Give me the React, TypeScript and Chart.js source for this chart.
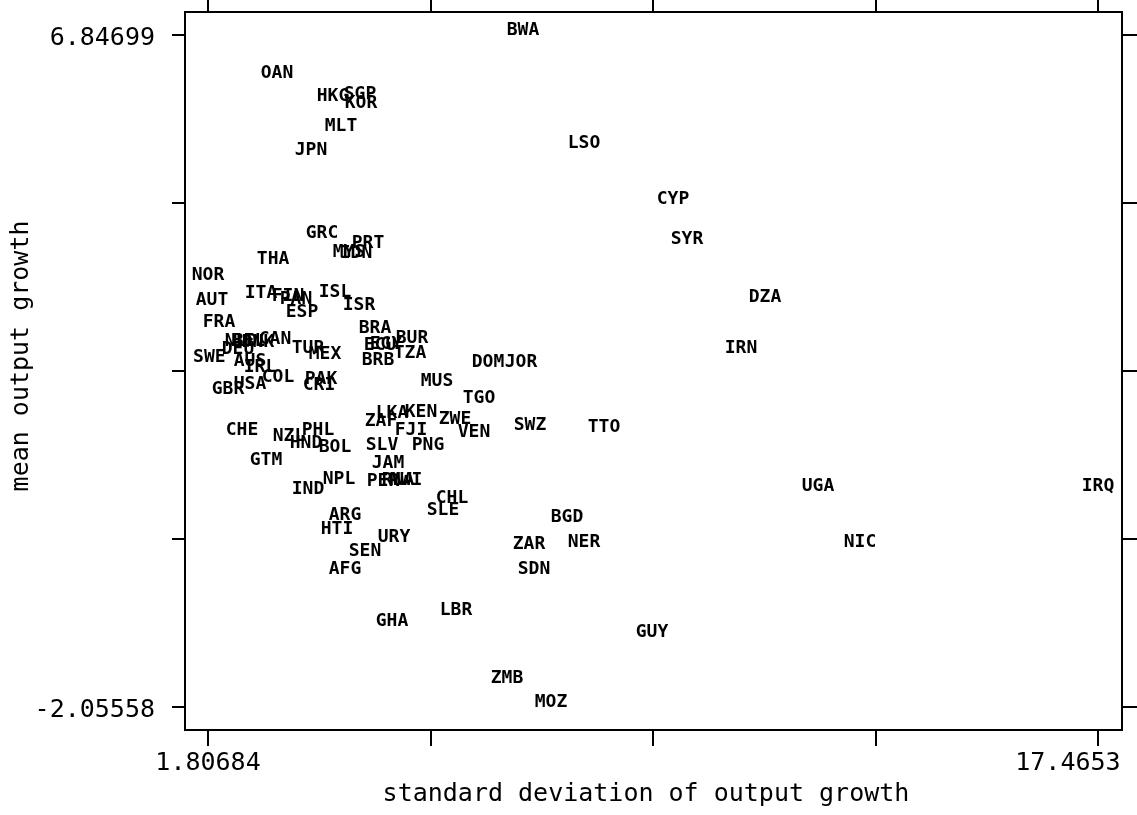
import React, { useEffect, useRef } from "react";
import { Chart, registerables } from "chart.js";

Chart.register(...registerables);

// Country codes (marker labels)
const countries = [
  "BWA","OAN","HKG","SGP","KOR","MLT","JPN","LSO","CYP","SYR",
  "GRC","PRT","MYS","IDN","THA","NOR","AUT","ITA","FIN","PAN",
  "ISL","ISR","ESP","FRA","BRA","BUR","ECU","EGY","TZA","BRB",
  "DOM","JOR","MUS","IRN","DZA","NLD","BEL","DNK","CAN","DEU",
  "SWE","AUS","IRL","TUR","MEX","PAK","CRI","COL","USA","GBR",
  "TGO","ZAF","LKA","KEN","ZWE","FJI","VEN","SWZ","TTO","SLV",
  "PNG","JAM","PER","RWA","MWI","CHE","NZL","PHL","HND","BOL",
  "GTM","IND","NPL","ARG","HTI","URY","SEN","AFG","CHL","SLE",
  "ZAR","SDN","BGD","NER","UGA","NIC","IRQ","GHA","LBR","GUY",
  "ZMB","MOZ",
];

// standard deviation of output growth (x)
const sdGrowth = [
  7.349, 3.021, 4.006, 4.481, 4.499, 4.147, 3.619, 8.422, 9.988, 10.234,
  3.813, 4.622, 4.288, 4.411, 2.951, 1.80684, 1.877, 2.739, 3.214, 3.355,
  4.041, 4.464, 3.461, 2.000, 4.745, 5.396, 4.833, 4.938, 5.361, 4.798,
  6.733, 7.313, 5.836, 11.184, 11.606, 2.387, 2.528, 2.686, 2.986, 2.335,
  1.830, 2.546, 2.722, 3.566, 3.865, 3.795, 3.760, 3.038, 2.546, 2.159,
  6.575, 4.850, 5.044, 5.554, 6.152, 5.378, 6.487, 7.472, 8.774, 4.868,
  5.677, 4.974, 4.886, 5.150, 5.290, 2.405, 3.232, 3.742, 3.531, 4.041,
  2.827, 3.566, 4.112, 4.217, 4.076, 5.079, 4.569, 4.217, 6.100, 5.941,
  7.454, 7.542, 8.123, 8.422, 12.539, 13.278, 17.4653, 5.044, 6.170, 9.618,
  7.067, 7.841,
];

// mean output growth (y)
const meanGrowth = [
  6.84699, 6.284, 5.979, 6.006, 5.886, 5.582, 5.264, 5.356, 4.615, 4.085,
  4.164, 4.032, 3.912, 3.899, 3.820, 3.608, 3.276, 3.369, 3.329, 3.290,
  3.382, 3.210, 3.117, 2.985, 2.905, 2.773, 2.680, 2.693, 2.574, 2.481,
  2.455, 2.455, 2.203, 2.640, 3.316, 2.733, 2.733, 2.720, 2.760, 2.627,
  2.521, 2.468, 2.389, 2.640, 2.561, 2.230, 2.150, 2.256, 2.164, 2.097,
  1.978, 1.673, 1.779, 1.792, 1.700, 1.554, 1.528, 1.620, 1.594, 1.355,
  1.355, 1.117, 0.878, 0.892, 0.892, 1.554, 1.475, 1.554, 1.382, 1.329,
  1.147, 0.772, 0.905, 0.428, 0.242, 0.136, -0.049, -0.288, 0.653, 0.494,
  0.044, -0.288, 0.401, 0.070, 0.812, 0.070, 0.812, -0.977, -0.831, -1.122,
  -1.732, -2.05558,
];

const xTickValues = [1.80684, 5.72146, 9.63607, 13.55069, 17.4653];
const xTickLabels = ["1.80684", "", "", "", "17.4653    "];
const yTickValues = [6.84699, 4.62135, 2.39571, 0.17006, -2.05558];
const yTickLabels = ["6.84699", "", "", "", "-2.05558"];

const X_MIN = 1.402;
const X_MAX = 17.887;
const Y_MIN = -2.36;
const Y_MAX = 7.152;

const FONT = "'DejaVu Sans Mono', monospace";

const labelPlugin = {
  id: "markerLabels",
  afterDatasetsDraw(chart: any) {
    const ctx = chart.ctx;
    const meta = chart.getDatasetMeta(0);
    ctx.save();
    ctx.font = `bold 18px ${FONT}`;
    ctx.fillStyle = "#000";
    ctx.textAlign = "center";
    ctx.textBaseline = "middle";
    meta.data.forEach((el: any, i: number) => {
      ctx.fillText(countries[i], el.x, el.y - 4.5);
    });
    ctx.restore();
  },
};

export default function App() {
  const ref = useRef<HTMLCanvasElement | null>(null);

  useEffect(() => {
    if (!ref.current) return;
    const points = countries.map((_, i) => ({ x: sdGrowth[i], y: meanGrowth[i] }));
    const tickFont = { family: FONT, size: 25, weight: "normal" as const };
    const axisGrid = (len: number) => ({
      drawOnChartArea: false,
      drawTicks: true,
      tickLength: len,
      color: "#000",
      lineWidth: 2,
    });
    const border = { display: true, color: "#000", width: 2 };

    const chart = new Chart(ref.current, {
      type: "scatter",
      data: {
        datasets: [
          {
            data: points,
            pointRadius: 0,
            pointHoverRadius: 0,
            borderWidth: 0,
            backgroundColor: "rgba(0,0,0,0)",
          },
        ],
      },
      options: {
        responsive: false,
        animation: false,
        events: [],
        layout: { padding: 0 },
        plugins: {
          legend: { display: false },
          tooltip: { enabled: false },
          title: { display: false },
        },
        scales: {
          x: {
            type: "linear",
            position: "bottom",
            min: X_MIN,
            max: X_MAX,
            afterBuildTicks: (axis: any) => {
              axis.ticks = xTickValues.map((v) => ({ value: v }));
            },
            afterFit: (axis: any) => {
              axis.height = 85;
              axis.paddingLeft = 0;
              axis.paddingRight = 0;
            },
            ticks: {
              autoSkip: false,
              maxRotation: 0,
              minRotation: 0,
              padding: 2,
              color: "#000",
              font: tickFont,
              callback: (_v: any, i: number) => xTickLabels[i],
            },
            grid: axisGrid(16),
            border,
            title: {
              display: true,
              text: "standard deviation of output growth ",
              color: "#000",
              font: tickFont,
              padding: { top: 0, bottom: 6 },
            },
          },
          x2: {
            type: "linear",
            position: "top",
            min: X_MIN,
            max: X_MAX,
            afterBuildTicks: (axis: any) => {
              axis.ticks = xTickValues.map((v) => ({ value: v }));
            },
            afterFit: (axis: any) => {
              axis.height = 12;
              axis.paddingLeft = 0;
              axis.paddingRight = 0;
            },
            ticks: { display: false, autoSkip: false },
            grid: axisGrid(12),
            border,
          },
          y: {
            type: "linear",
            position: "left",
            min: Y_MIN,
            max: Y_MAX,
            afterBuildTicks: (axis: any) => {
              axis.ticks = yTickValues.map((v) => ({ value: v }));
            },
            afterFit: (axis: any) => {
              axis.width = 185;
              axis.paddingTop = 0;
              axis.paddingBottom = 0;
            },
            ticks: {
              autoSkip: false,
              padding: 17,
              labelOffset: 3,
              color: "#000",
              font: tickFont,
              callback: (_v: any, i: number) => yTickLabels[i],
            },
            grid: axisGrid(13),
            border,
            title: {
              display: true,
              text: "  mean output growth",
              color: "#000",
              font: tickFont,
              padding: { top: 6, bottom: 0 },
            },
          },
          y2: {
            type: "linear",
            position: "right",
            min: Y_MIN,
            max: Y_MAX,
            afterBuildTicks: (axis: any) => {
              axis.ticks = yTickValues.map((v) => ({ value: v }));
            },
            afterFit: (axis: any) => {
              axis.width = 15;
              axis.paddingTop = 0;
              axis.paddingBottom = 0;
            },
            ticks: { display: false, autoSkip: false },
            grid: axisGrid(15),
            border,
          },
        },
      },
      plugins: [labelPlugin],
    } as any);

    return () => chart.destroy();
  }, []);

  return (
    <div style={{ position: "absolute", left: 0, top: 0, width: 1137, height: 815, background: "#fff" }}>
      <canvas ref={ref} width={1137} height={815} style={{ display: "block" }} />
    </div>
  );
}
